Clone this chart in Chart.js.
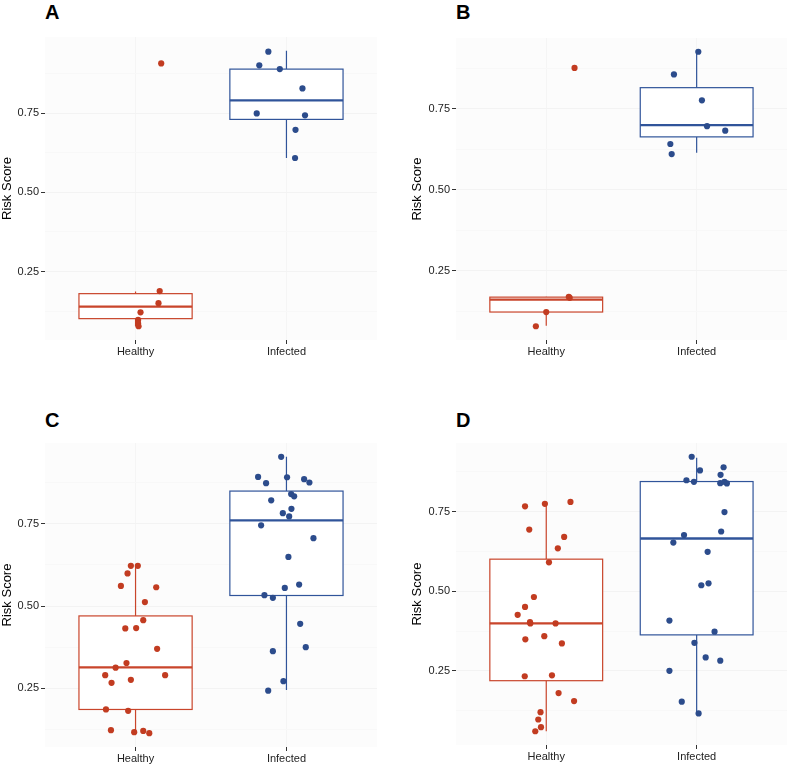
<!DOCTYPE html>
<html>
<head>
<meta charset="utf-8">
<script src="https://cdn.jsdelivr.net/npm/chart.js@4.4.1/dist/chart.umd.min.js"></script>
<style>
  html, body { margin: 0; padding: 0; background: #ffffff; }
  body { width: 790px; height: 764px; position: relative; overflow: hidden; font-family: "Liberation Sans", Arial, Helvetica, sans-serif; }
  canvas { position: absolute; }
  .tag { position: absolute; font: bold 20px/20px "Liberation Sans", Arial, sans-serif; color: #000; }
</style>
</head>
<body>
<div class="tag" style="left:45px;top:2px;">A</div>
<div class="tag" style="left:456px;top:2px;">B</div>
<div class="tag" style="left:45px;top:410px;">C</div>
<div class="tag" style="left:456px;top:410px;">D</div>
<canvas id="cA" width="395" height="380" style="left:0px;top:0px;"></canvas>
<canvas id="cB" width="380" height="380" style="left:410px;top:0px;"></canvas>
<canvas id="cC" width="395" height="384" style="left:0px;top:380px;"></canvas>
<canvas id="cD" width="380" height="384" style="left:410px;top:380px;"></canvas>
<script>
// ---------------- DATA ----------------
const categories = ['Healthy', 'Infected'];
const yTickLabels = [0.25, 0.50, 0.75];
const yMinorTicks = [0.125, 0.375, 0.625, 0.875];
const axisTitle = 'Risk Score';

// box stats: [lower whisker, Q1, median, Q3, upper whisker]
const A_healthyBox  = [0.077, 0.101, 0.139, 0.180, 0.187];
const A_infectedBox = [0.609, 0.731, 0.791, 0.890, 0.948];
const B_healthyBox  = [0.080, 0.122, 0.160, 0.168, 0.169];
const B_infectedBox = [0.614, 0.663, 0.699, 0.815, 0.926];
const C_healthyBox  = [0.117, 0.186, 0.314, 0.470, 0.622];
const C_infectedBox = [0.245, 0.532, 0.760, 0.849, 0.953];
const D_healthyBox  = [0.060, 0.219, 0.399, 0.601, 0.775];
const D_infectedBox = [0.116, 0.363, 0.666, 0.845, 0.920];

// jittered points: score and horizontal jitter (category units)
const A_healthyScore   = [0.908, 0.188, 0.150, 0.121, 0.097, 0.086, 0.077];
const A_healthyJitter  = [0.17, 0.16, 0.152, 0.033, 0.017, 0.017, 0.02];
const A_infectedScore  = [0.945, 0.902, 0.890, 0.829, 0.750, 0.744, 0.698, 0.609];
const A_infectedJitter = [-0.12, -0.18, -0.044, 0.106, -0.197, 0.123, 0.06, 0.057];

const B_healthyScore   = [0.876, 0.169, 0.166, 0.122, 0.078];
const B_healthyJitter  = [0.188, 0.150, 0.156, 0.0, -0.069];
const B_infectedScore  = [0.926, 0.856, 0.776, 0.696, 0.682, 0.641, 0.610];
const B_infectedJitter = [0.011, -0.151, 0.035, 0.069, 0.19, -0.175, -0.166];

const C_healthyScore   = [0.622, 0.622, 0.599, 0.561, 0.557, 0.512, 0.457, 0.432, 0.433, 0.370, 0.327,
                          0.313, 0.290, 0.290, 0.276, 0.267, 0.186, 0.182, 0.123, 0.117, 0.121, 0.114];
const C_healthyJitter  = [-0.031, 0.015, -0.053, -0.097, 0.137, 0.062, 0.051, -0.068, 0.004, 0.143, -0.060,
                          -0.132, -0.201, 0.196, -0.031, -0.159, -0.196, -0.049, -0.163, -0.009, 0.051, 0.091];
const C_infectedScore  = [0.953, 0.892, 0.891, 0.873, 0.885, 0.875, 0.840, 0.833, 0.821, 0.795, 0.782, 0.772,
                          0.745, 0.706, 0.649, 0.565, 0.555, 0.533, 0.525, 0.446, 0.375, 0.363, 0.272, 0.243];
const C_infectedJitter = [-0.035, -0.188, 0.004, -0.135, 0.117, 0.152, 0.031, 0.051, -0.101, 0.033, -0.024, 0.018,
                          -0.168, 0.179, 0.013, 0.084, -0.011, -0.146, -0.090, 0.091, 0.128, -0.090, -0.020, -0.121];

const D_healthyScore   = [0.767, 0.775, 0.781, 0.694, 0.671, 0.635, 0.591, 0.482, 0.451, 0.426, 0.403, 0.399,
                          0.399, 0.349, 0.359, 0.336, 0.233, 0.236, 0.180, 0.155, 0.120, 0.097, 0.073, 0.060];
const D_healthyJitter  = [-0.141, -0.009, 0.161, -0.113, 0.119, 0.077, 0.018, -0.082, -0.141, -0.190, -0.108, -0.106,
                          0.062, -0.139, -0.013, 0.104, -0.143, 0.038, 0.082, 0.185, -0.038, -0.053, -0.035, -0.073];
const D_infectedScore  = [0.923, 0.890, 0.880, 0.866, 0.849, 0.844, 0.840, 0.844, 0.839, 0.749, 0.677, 0.688,
                          0.653, 0.624, 0.519, 0.525, 0.408, 0.373, 0.338, 0.292, 0.282, 0.250, 0.153, 0.116];
const D_infectedJitter = [-0.033, 0.179, 0.022, 0.159, -0.068, -0.018, 0.157, 0.185, 0.201, 0.185, -0.084, 0.163,
                          -0.155, 0.073, 0.031, 0.079, -0.181, 0.119, -0.015, 0.060, 0.157, -0.181, -0.099, 0.013];

// ---------------- STYLE ----------------
const RED = '#C23C21';
const RED_BOX = '#C9452B';
const BLUE = '#2C4C8C';
const BLUE_BOX = '#30549A';
const FONT = '"Liberation Sans", Arial, Helvetica, sans-serif';

const boxPlugin = {
  id: 'boxes',
  beforeDraw(chart) {
    const a = chart.chartArea, c = chart.ctx;
    c.save();
    c.fillStyle = '#FCFCFC';
    c.fillRect(a.left, a.top, a.right - a.left, a.bottom - a.top);
    c.restore();
  },
  beforeDatasetsDraw(chart, args, opts) {
    const xs = chart.scales.x, ys = chart.scales.y, c = chart.ctx;
    const a = chart.chartArea;
    c.save();
    c.beginPath();
    c.rect(a.left, a.top, a.right - a.left, a.bottom - a.top);
    c.clip();
    opts.boxes.forEach((b, i) => {
      const cx = i + 1;
      const st = b.stats;
      const xl = xs.getPixelForValue(cx - 0.375);
      const xr = xs.getPixelForValue(cx + 0.375);
      const xm = xs.getPixelForValue(cx);
      const yw0 = ys.getPixelForValue(st[0]);
      const yq1 = ys.getPixelForValue(st[1]);
      const ymd = ys.getPixelForValue(st[2]);
      const yq3 = ys.getPixelForValue(st[3]);
      const yw1 = ys.getPixelForValue(st[4]);
      c.strokeStyle = b.color;
      c.lineWidth = 1.2;
      // whiskers
      c.beginPath();
      c.moveTo(xm, yq3); c.lineTo(xm, yw1);
      c.moveTo(xm, yq1); c.lineTo(xm, yw0);
      c.stroke();
      // box
      c.fillStyle = '#FFFFFF';
      c.fillRect(xl, yq3, xr - xl, yq1 - yq3);
      c.strokeRect(xl, yq3, xr - xl, yq1 - yq3);
      // median
      c.lineWidth = 2.3;
      c.beginPath();
      c.moveTo(xl, ymd); c.lineTo(xr, ymd);
      c.stroke();
    });
    c.restore();
  }
};

function points(scores, jitter, idx) {
  return scores.map((s, i) => ({ x: idx + jitter[i], y: s }));
}

function makePanel(id, hBox, iBox, hS, hJ, iS, iJ, lay) {
  const all = [].concat(hBox, iBox, hS, iS);
  const lo = Math.min(...all), hi = Math.max(...all);
  const ex = (hi - lo) * 0.05;
  const yMin = lo - ex, yMax = hi + ex;
  new Chart(document.getElementById(id), {
    type: 'scatter',
    data: {
      datasets: [
        { data: points(hS, hJ, 1), backgroundColor: RED, borderWidth: 0, pointRadius: 3.1, pointHoverRadius: 3.1 },
        { data: points(iS, iJ, 2), backgroundColor: BLUE, borderWidth: 0, pointRadius: 3.1, pointHoverRadius: 3.1 }
      ]
    },
    options: {
      responsive: false,
      animation: false,
      devicePixelRatio: 1,
      layout: { padding: { top: lay.top, right: lay.right, left: 0, bottom: 0 } },
      plugins: {
        legend: { display: false },
        tooltip: { enabled: false },
        boxes: { boxes: [ { stats: hBox, color: RED_BOX }, { stats: iBox, color: BLUE_BOX } ] }
      },
      scales: {
        x: {
          type: 'linear', min: 0.4, max: 2.6,
          afterBuildTicks: s => { s.ticks = [{ value: 1 }, { value: 2 }]; },
          afterFit: s => { s.height = lay.xh; },
          ticks: {
            callback: v => categories[v - 1] || '',
            font: { family: FONT, size: 11 }, color: '#222222', padding: 1,
            autoSkip: false, maxRotation: 0
          },
          grid: { color: '#F5F5F5', lineWidth: 1, tickColor: '#333333', tickLength: 4, tickWidth: 1 },
          border: { display: false }
        },
        y: {
          min: yMin, max: yMax,
          afterBuildTicks: s => {
            s.ticks = yMinorTicks.concat(yTickLabels).filter(v => v >= yMin && v <= yMax)
              .sort((p, q) => p - q).map(v => ({ value: v }));
          },
          afterFit: s => { s.width = lay.yw; },
          ticks: {
            callback: v => yTickLabels.some(t => Math.abs(t - v) < 1e-9) ? v.toFixed(2) : '',
            font: { family: FONT, size: 11 }, color: '#222222', padding: 2
          },
          grid: {
            color: ctx => yTickLabels.some(t => Math.abs(t - ctx.tick.value) < 1e-9) ? '#F3F3F3' : '#F8F8F8',
            tickColor: ctx => yTickLabels.some(t => Math.abs(t - ctx.tick.value) < 1e-9) ? '#333333' : 'rgba(0,0,0,0)',
            tickLength: 4, lineWidth: 1
          },
          border: { display: false },
          title: {
            display: true, text: axisTitle, color: '#000',
            font: { family: FONT, size: 13 }, padding: { top: 0, bottom: 0 }
          }
        }
      }
    },
    plugins: [boxPlugin]
  });
}

makePanel('cA', A_healthyBox, A_infectedBox, A_healthyScore, A_healthyJitter, A_infectedScore, A_infectedJitter,
  { top: 37, right: 18, yw: 45, xh: 40 });
makePanel('cB', B_healthyBox, B_infectedBox, B_healthyScore, B_healthyJitter, B_infectedScore, B_infectedJitter,
  { top: 38, right: 3, yw: 46, xh: 40 });
makePanel('cC', C_healthyBox, C_infectedBox, C_healthyScore, C_healthyJitter, C_infectedScore, C_infectedJitter,
  { top: 63, right: 18, yw: 45, xh: 17 });
makePanel('cD', D_healthyBox, D_infectedBox, D_healthyScore, D_healthyJitter, D_infectedScore, D_infectedJitter,
  { top: 63, right: 3, yw: 46, xh: 19 });
</script>
</body>
</html>
